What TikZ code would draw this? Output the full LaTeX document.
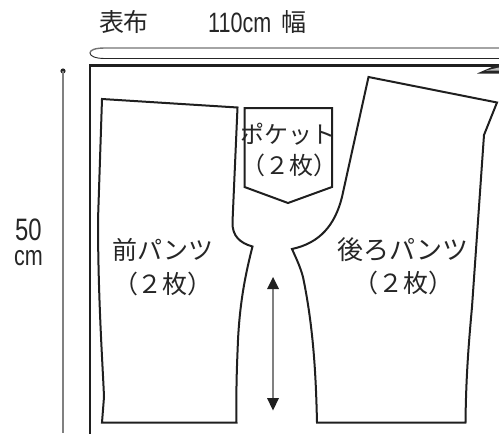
\documentclass[tikz,border=0pt]{standalone}
\usepackage{fontspec}
\setmainfont{Liberation Sans}
\newfontfamily\jp{Noto Sans CJK JP}
\newfontfamily\narrowa[FakeStretch=0.77]{Liberation Sans}
\tikzset{
  outline/.style={draw=black!88,line width=2pt,line join=miter},
  frameline/.style={draw=black!88,line width=2.2pt},
  frametop/.style={draw=black!88,line width=3.4pt},
  dimline/.style={draw=black!50,line width=1.2pt},
  lbl/.style={inner sep=0pt,font=\jp\fontsize{25}{28}\selectfont,text=black!85},
  lat/.style={inner sep=0pt,font=\narrowa\fontsize{28}{28}\selectfont,text=black!85},
}
\begin{document}
\begin{tikzpicture}[x=1pt,y=-1pt]
\useasboundingbox (0,0) rectangle (499,434);
% selvedge
\draw[draw=black!55,line width=1.4pt] (499,48) -- (105,48) .. controls (95,48) and (90,50) .. (90,53);
\draw[draw=black!85,line width=0.9pt] (90,53) .. controls (90,56) and (95,58.5) .. (105,58.5) -- (499,58.5);
% frame
\coordinate (fa) at (499,65.5);
\coordinate (fb) at (89,65.5);
\coordinate (fc) at (90,65.5);
\coordinate (fd) at (90,434);
\draw[frameline] (fc) -- (fd);
\draw[frametop] (fa) -- (fb);
% fold mark
\fill[black!85] (477,73.5) -- (499,64) -- (499,73.5) -- cycle;
\fill[black!25] (486,70.5) -- (499,67.5) -- (499,70.5) -- cycle;
% dimension
\coordinate (da) at (63,71);
\coordinate (db) at (63,433);
\fill[black!85] (da) circle (2.6);
\draw[dimline] (da) -- (db);
\node[lat,font=\narrowa\fontsize{31}{31}\selectfont] (dimnum) at (28.5,230) {50};
\node[lat,font=\narrowa\fontsize{28}{28}\selectfont,anchor=base] (dimunit) at (28.5,265) {cm};
% front trousers
\draw[outline] (102,99) -- (237.5,107.5) -- (232.5,222)
  .. controls (232,236) and (240,243) .. (252.5,246.5)
  .. controls (246,272) and (240,300) .. (238,340)
  .. controls (237,365) and (236,385) .. (236.5,422.5)
  -- (102,422.5) -- (104,397)
  .. controls (103,370) and (98,300) .. (98,220) -- cycle;
% pocket
\draw[outline] (244.5,108) -- (332,108) -- (332,187) -- (288,203) -- (244.5,187) -- cycle;
% back trousers
\draw[outline] (368.5,77) -- (497,102.5) -- (484,135) -- (472,307)
  .. controls (469,340) and (466,375) .. (465.5,422.5) -- (317,422.5)
  .. controls (316,380) and (314,330) .. (303,277)
  .. controls (300,266) and (296,258) .. (292,249)
  .. controls (320,243) and (335,225) .. (342,197) -- cycle;
% arrow
\coordinate (aa) at (273,285);
\coordinate (ab) at (273,402);
\draw[dimline] (aa) -- (ab);
\fill[black!88] (273,277) -- (267,289) -- (279,289) -- cycle;
\fill[black!88] (273,410.5) -- (267,398) -- (279,398) -- cycle;
% labels
\node[lbl] (t1) at (124,22) {表布};
\node[lat,anchor=base west] (t2) at (208,32) {110cm};
\node[lbl] (t3) at (294,22) {幅};
\node[lbl,font=\jp\fontsize{24}{28}\selectfont] (p1) at (288,134) {ポケット};
\node[lbl,font=\jp\fontsize{24}{28}\selectfont] (p2) at (289,165) {（２枚）};
\node[lbl] (f1) at (163,250) {前パンツ};
\node[lbl] (f2) at (163,284) {（２枚）};
\node[lbl,font=\jp\fontsize{26}{28}\selectfont] (b1) at (403,250) {後ろパンツ};
\node[lbl] (b2) at (403.5,283) {（２枚）};
\end{tikzpicture}
\end{document}
